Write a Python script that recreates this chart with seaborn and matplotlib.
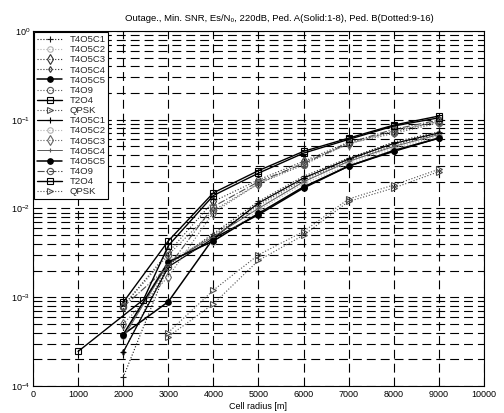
import numpy as np
import pandas as pd
import matplotlib
matplotlib.use("Agg")
import matplotlib.pyplot as plt
import seaborn as sns
from matplotlib.ticker import LogLocator, FixedLocator

sns.set_theme(style="white")
plt.rcParams['font.family'] = ['Liberation Sans', 'DejaVu Sans']
plt.rcParams['mathtext.fontset'] = 'custom'
plt.rcParams['mathtext.rm'] = 'Liberation Sans'

# ---------------- data ----------------
labels = ["T4O5C1", "T4O5C2", "T4O5C3", "T4O5C4", "T4O5C5", "T4O9", "T2O4", "QPSK"]
radius = [2000, 3000, 4000, 5000, 6000, 7000, 8000, 9000]
radius_qpsk = [3000, 4000, 5000, 6000, 7000, 8000, 9000]
radius_t2o4_b = [1000, 2450, 3000, 4000, 5000, 6000, 7000, 8000, 9000]

# Ped. A (series 1-8)
a_t4o5c1 = [1.25e-4, 2.3e-3, 5.2e-3, 1.2e-2, 2.3e-2, 3.7e-2, 5.6e-2, 7.3e-2]
a_t4o5c2 = [3.8e-4, 2.6e-3, 4.8e-3, 1.05e-2, 2.0e-2, 3.3e-2, 4.8e-2, 6.6e-2]
a_t4o5c3 = [8.0e-4, 3.2e-3, 1.2e-2, 2.1e-2, 3.4e-2, 5.6e-2, 7.3e-2, 9.6e-2]
a_t4o5c4 = [2.4e-4, 2.36e-3, 5.0e-3, 1.1e-2, 2.1e-2, 3.5e-2, 5.2e-2, 7.0e-2]
a_t4o5c5 = [3.8e-4, 8.9e-4, 4.6e-3, 8.5e-3, 1.7e-2, 3.0e-2, 4.4e-2, 6.2e-2]
a_t4o9 = [8.0e-4, 3.0e-3, 9.5e-3, 1.9e-2, 3.1e-2, 5.4e-2, 7.0e-2, 9.2e-2]
a_t2o4 = [8.75e-4, 4.3e-3, 1.5e-2, 2.67e-2, 4.4e-2, 6.2e-2, 8.7e-2, 0.11]
a_qpsk = [4.0e-4, 1.2e-3, 3.0e-3, 5.5e-3, 1.28e-2, 1.84e-2, 2.76e-2]

# Ped. B (series 9-16)
b_t4o5c1 = [2.4e-4, 2.2e-3, 4.6e-3, 1.15e-2, 2.2e-2, 3.6e-2, 5.4e-2, 7.1e-2]
b_t4o5c2 = [3.7e-4, 2.5e-3, 4.2e-3, 9.5e-3, 1.9e-2, 3.1e-2, 4.6e-2, 6.4e-2]
b_t4o5c3 = [5.0e-4, 1.7e-3, 9.0e-3, 1.9e-2, 3.3e-2, 5.3e-2, 7.5e-2, 9.5e-2]
b_t4o5c4 = [3.5e-4, 2.4e-3, 4.8e-3, 1.0e-2, 2.0e-2, 3.4e-2, 5.0e-2, 6.8e-2]
b_t4o5c5 = [3.8e-4, 2.5e-3, 4.3e-3, 8.8e-3, 1.75e-2, 3.0e-2, 4.5e-2, 6.2e-2]
b_t4o9 = [7.8e-4, 2.2e-3, 1.05e-2, 2.0e-2, 3.2e-2, 5.5e-2, 7.8e-2, 9.9e-2]
b_t2o4 = [2.45e-4, 9.4e-4, 3.8e-3, 1.4e-2, 2.5e-2, 4.2e-2, 6.0e-2, 8.5e-2, 0.105]
b_qpsk = [3.6e-4, 8.4e-4, 2.6e-3, 5.0e-3, 1.2e-2, 1.7e-2, 2.6e-2]

x_ticks = [0, 1000, 2000, 3000, 4000, 5000, 6000, 7000, 8000, 9000, 10000]

series = [
    (labels[0], radius, a_t4o5c1, dict(color='0.1', ls=':', marker='+', ms=5, mfc='none', lw=0.8)),
    (labels[1], radius, a_t4o5c2, dict(color='0.7', ls=':', marker='o', ms=4, mfc='none', lw=0.8)),
    (labels[2], radius, a_t4o5c3, dict(color='0.2', ls=':', marker='d', ms=5, mfc='none', lw=0.8)),
    (labels[3], radius, a_t4o5c4, dict(color='0.2', ls=':', marker='d', ms=3, mfc='none', lw=0.8)),
    (labels[4], radius, a_t4o5c5, dict(color='0.0', ls='-', marker='o', ms=4, mfc='0.0', lw=1.1)),
    (labels[5], radius, a_t4o9, dict(color='0.35', ls=':', marker='o', ms=4.5, mfc='none', lw=0.8)),
    (labels[6], radius, a_t2o4, dict(color='0.0', ls='-', marker='s', ms=5, mfc='none', lw=1.0)),
    (labels[7], radius_qpsk, a_qpsk, dict(color='0.3', ls=':', marker='>', ms=5, mfc='none', lw=0.8)),
    (labels[0], radius, b_t4o5c1, dict(color='0.0', ls='-', marker='+', ms=5, mfc='none', lw=0.9)),
    (labels[1], radius, b_t4o5c2, dict(color='0.7', ls=':', marker='o', ms=4, mfc='none', lw=0.8)),
    (labels[2], radius, b_t4o5c3, dict(color='0.4', ls=':', marker='d', ms=5, mfc='none', lw=0.8)),
    (labels[3], radius, b_t4o5c4, dict(color='0.35', ls='-', marker='+', ms=3, mfc='none', lw=0.7)),
    (labels[4], radius, b_t4o5c5, dict(color='0.0', ls='-', marker='o', ms=4, mfc='0.0', lw=1.1)),
    (labels[5], radius, b_t4o9, dict(color='0.3', ls='-.', marker='o', ms=4.5, mfc='none', lw=0.8)),
    (labels[6], radius_t2o4_b, b_t2o4, dict(color='0.0', ls='-', marker='s', ms=5, mfc='none', lw=1.0)),
    (labels[7], radius_qpsk, b_qpsk, dict(color='0.3', ls=':', marker='>', ms=5, mfc='none', lw=0.8)),
]

fig = plt.figure(figsize=(5.04, 4.13), dpi=100)
ax = fig.add_axes([0.0655, 0.0654, 0.8945, 0.8596])
ax.set_facecolor('white')

for lab, xs, ys, st in series:
    df = pd.DataFrame({"r": xs, "p": ys})
    sns.lineplot(data=df, x="r", y="p", ax=ax, label=lab, estimator=None, sort=False,
                 color=st['color'], linestyle=st['ls'], marker=st['marker'],
                 markersize=st['ms'], markerfacecolor=st['mfc'],
                 markeredgecolor=st['color'], markeredgewidth=0.8,
                 linewidth=st['lw'])

ax.set_yscale('log')
ax.set_xlim(0, 10000)
ax.set_ylim(1e-4, 1)
ax.xaxis.set_major_locator(FixedLocator(x_ticks))
ax.set_xticklabels([str(t) for t in x_ticks])
ax.yaxis.set_major_locator(LogLocator(base=10, numticks=10))
ax.yaxis.set_minor_locator(LogLocator(base=10, subs=np.arange(2, 10), numticks=20))

grid_kw = dict(color='black', linestyle=(0, (8, 4.5)), linewidth=0.8)
ax.grid(True, which='major', axis='both', **grid_kw)
ax.grid(True, which='minor', axis='y', **grid_kw)
ax.set_axisbelow(True)

for sp in ax.spines.values():
    sp.set_color('black')
    sp.set_linewidth(0.8)

ax.tick_params(axis='both', which='both', direction='in', top=True, right=True,
               labelsize=6.5, colors='black', length=3, width=0.6)
ax.tick_params(axis='y', which='minor', length=2)
ax.tick_params(axis='x', pad=3)
ax.tick_params(axis='y', pad=2)

ax.set_xlabel("Cell radius [m]", fontsize=6.5, labelpad=2, color='black')
ax.set_ylabel("")
fig.text(0.555, 0.955,
         "Outage., Min. SNR, Es/N\u2080, 220dB, Ped. A(Solid:1-8), Ped. B(Dotted:9-16)",
         fontsize=6.8, color='black', ha='center', va='center')

leg = ax.legend(loc='upper left', fontsize=6.8, frameon=True, fancybox=False,
                framealpha=1, edgecolor='black', borderaxespad=0.15,
                labelspacing=0.12, handlelength=2.6, handletextpad=0.8,
                borderpad=0.3)
leg.get_frame().set_linewidth(0.8)

fig.savefig("out.png", dpi=100, facecolor='white')
